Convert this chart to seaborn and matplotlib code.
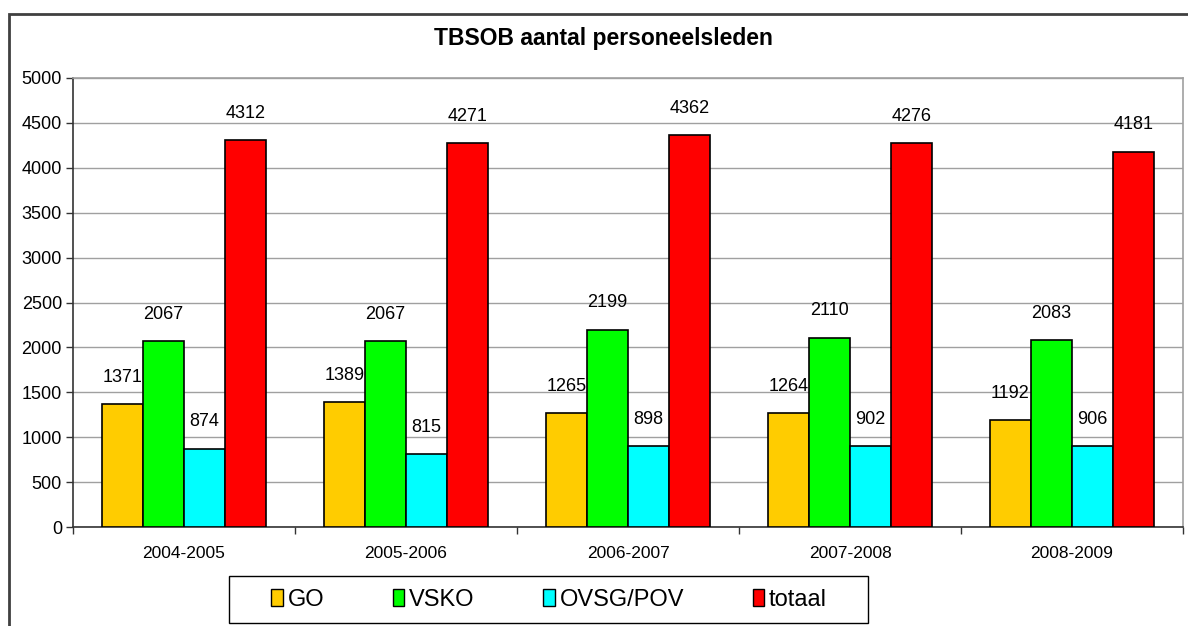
import matplotlib
matplotlib.use("Agg")
import matplotlib.pyplot as plt
from matplotlib.patches import Rectangle
import pandas as pd
import seaborn as sns

# data
jaren = ["2004-2005", "2005-2006", "2006-2007", "2007-2008", "2008-2009"]
groepen = ["GO", "VSKO", "OVSG/POV", "totaal"]
go = [1371, 1389, 1265, 1264, 1192]
vsko = [2067, 2067, 2199, 2110, 2083]
ovsg = [874, 815, 898, 902, 906]
totaal = [4312, 4271, 4362, 4276, 4181]
kleuren = ["#FFCC00", "#00FF00", "#00FFFF", "#FF0000"]

df = pd.DataFrame({
    "jaar": jaren * 4,
    "groep": [g for g in groepen for _ in jaren],
    "aantal": go + vsko + ovsg + totaal,
})

sns.set_style("white")
plt.rcParams["font.family"] = ["Liberation Sans", "DejaVu Sans"]
plt.rcParams["text.color"] = "black"

fig = plt.figure(figsize=(11.88, 6.26), dpi=100)
ax = fig.add_axes([73 / 1188, 1 - 527 / 626, 1110 / 1188, 449 / 626])

sns.barplot(data=df, x="jaar", y="aantal", hue="groep", palette=kleuren,
            edgecolor="black", linewidth=1.2, width=0.74, saturation=1,
            ax=ax, zorder=3)

for cont in ax.containers:
    ax.bar_label(cont, padding=13, fontsize=13, color="black")

ax.set_ylim(0, 5000)
ax.set_yticks(range(0, 5001, 500))
ax.set_xlim(-0.5, 4.5)
ax.yaxis.grid(True, color="#A0A0A0", linewidth=1, zorder=0)
ax.set_xlabel("")
ax.set_ylabel("")
ax.tick_params(axis="y", labelsize=13, labelcolor="black", length=5, width=1,
               color="#333333", pad=3, left=True)
ax.tick_params(axis="x", which="major", labelsize=12.5, labelcolor="black", length=0, pad=14)
ax.set_xticks([i + 0.5 for i in range(-1, 5)], minor=True)
ax.tick_params(axis="x", which="minor", length=5, width=1, color="#333333", bottom=True)
for s in ["left", "bottom"]:
    ax.spines[s].set_color("#333333")
    ax.spines[s].set_linewidth(1.2)
for s in ["top", "right"]:
    ax.spines[s].set_color("#A0A0A0")
    ax.spines[s].set_linewidth(1.2)

fig.text(603 / 1188, 1 - 39 / 626, "TBSOB aantal personeelsleden",
         ha="center", va="center", fontsize=16.5, fontweight="bold", color="black")

ax.get_legend().remove()
handles = [Rectangle((0, 0), 1, 1, facecolor=c, edgecolor="black", linewidth=1) for c in kleuren]
fig.legend(handles, groepen, ncol=4, loc="center",
           bbox_to_anchor=(549 / 1188, 1 - 600 / 626),
           frameon=False, fontsize=17,
           handlelength=0.5, handleheight=0.7, handletextpad=0.2,
           columnspacing=2.9, borderpad=0.3)

# legend box
fig.patches.append(Rectangle((229 / 1188, 1 - 623 / 626), 639 / 1188, 47 / 626,
                             transform=fig.transFigure, fill=False,
                             edgecolor="black", linewidth=1))

# outer chart border (cut off at the right and bottom)
fig.patches.append(Rectangle((9 / 1188, -0.1), 1.2, 1 - 14 / 626 + 0.1,
                             transform=fig.transFigure, fill=False,
                             edgecolor="#404040", linewidth=2))

fig.savefig("out.png", dpi=100)
